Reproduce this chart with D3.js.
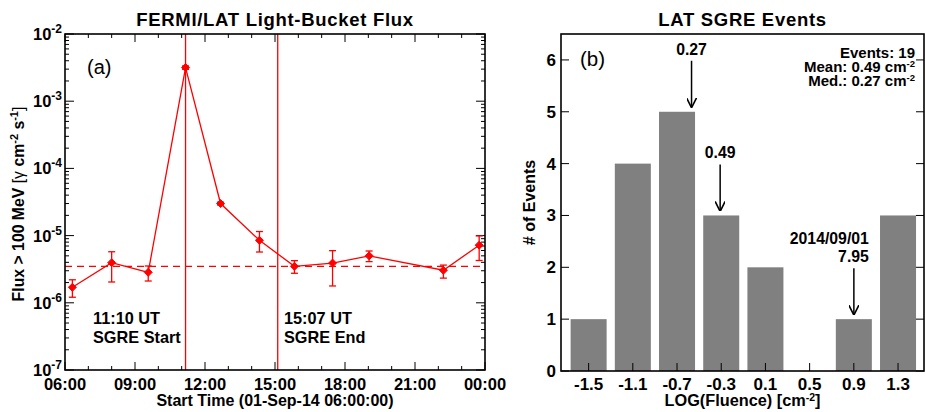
<!DOCTYPE html>
<html>
<head>
<meta charset="utf-8">
<script src="https://cdn.jsdelivr.net/npm/d3@7"></script>
<style>
  body { margin: 0; background: #fff; }
  svg { font-family: "Liberation Sans", Arial, sans-serif; font-weight: bold; }
</style>
</head>
<body>
<svg id="chart" width="925" height="412"></svg>
<script>
// Panel (a): light-bucket flux
const times = ["06:19", "08:00", "09:34", "11:10", "12:40", "14:20", "15:50", "17:28", "19:02", "22:13", "23:45"];
const flux = [1.7e-6, 3.95e-6, 2.84e-6, 3.16e-3, 3.0e-5, 8.5e-6, 3.49e-6, 3.9e-6, 5.0e-6, 3.05e-6, 7.2e-6];
const fluxHi = [2.2e-6, 5.75e-6, 3.53e-6, 3.35e-3, 3.15e-5, 1.15e-5, 4.24e-6, 5.97e-6, 5.9e-6, 3.64e-6, 9.9e-6];
const fluxLo = [1.21e-6, 2.04e-6, 2.11e-6, 2.98e-3, 2.85e-5, 5.7e-6, 2.75e-6, 1.78e-6, 4.1e-6, 2.33e-6, 4.26e-6];
const background = 3.49e-6;
const sgreStart = "11:10";
const sgreEnd = "15:07";

// Panel (b): histogram of event fluence
const binCenters = [-1.5, -1.1, -0.7, -0.3, 0.1, 0.5, 0.9, 1.3];
const counts = [1, 4, 5, 3, 2, 0, 1, 3];
const arrows = [
  { value: 0.27, label: ["0.27"] },
  { value: 0.49, label: ["0.49"] },
  { value: 7.95, label: ["2014/09/01", "7.95"] }
];
const statLines = [["Events: 19", null], ["Mean: 0.49 cm", "-2"], ["Med.: 0.27 cm", "-2"]];

const svg = d3.select("#chart");
const day = "2014-09-01T";
const parseT = (t) => new Date(day + t + ":00Z");
const tickFont = 16.5;
const labelFont = 16;

// ---------- panel a ----------
const a = { left: 65, right: 485, top: 34, bottom: 370 };
const x = d3.scaleUtc()
  .domain([new Date(day + "06:00:00Z"), new Date("2014-09-02T00:00:00Z")])
  .range([a.left, a.right]);
const y = d3.scaleLog().domain([1e-7, 1e-2]).range([a.bottom, a.top]);

const ga = svg.append("g");
const red = "#ff0000";

// ticks
const major = x.ticks(d3.utcHour.every(3));
const minor = x.ticks(d3.utcHour.every(1));
minor.forEach(t => {
  const len = major.some(m => +m === +t) ? 8 : 4;
  ga.append("line").attr("x1", x(t)).attr("x2", x(t)).attr("y1", a.bottom).attr("y2", a.bottom - len).attr("stroke", "#000");
  ga.append("line").attr("x1", x(t)).attr("x2", x(t)).attr("y1", a.top).attr("y2", a.top + len).attr("stroke", "#000");
});
ga.selectAll(".xl").data(major).join("text")
  .attr("x", d => x(d)).attr("y", a.bottom + 20)
  .attr("text-anchor", "middle").attr("font-size", tickFont)
  .text(d3.utcFormat("%H:%M"));

for (let e = -7; e <= -2; e++) {
  for (let m = 1; m <= 9; m++) {
    const v = m * Math.pow(10, e);
    if (v > 1e-2) break;
    const len = m === 1 ? 9 : 4;
    ga.append("line").attr("x1", a.left).attr("x2", a.left + len).attr("y1", y(v)).attr("y2", y(v)).attr("stroke", "#000");
    ga.append("line").attr("x1", a.right).attr("x2", a.right - len).attr("y1", y(v)).attr("y2", y(v)).attr("stroke", "#000");
  }
  const t = ga.append("text").attr("x", a.left - 3).attr("y", y(Math.pow(10, e)) + 6)
    .attr("text-anchor", "end").attr("font-size", tickFont);
  t.append("tspan").text("10");
  t.append("tspan").attr("dy", -7).attr("font-size", 12).text(e);
}

// background + SGRE window
ga.append("line").attr("x1", a.left).attr("x2", a.right).attr("y1", y(background)).attr("y2", y(background))
  .attr("stroke", red).attr("stroke-width", 1.3).attr("stroke-dasharray", "7,5");
[sgreStart, sgreEnd].forEach(t => {
  ga.append("line").attr("x1", x(parseT(t))).attr("x2", x(parseT(t))).attr("y1", a.top).attr("y2", a.bottom)
    .attr("stroke", red).attr("stroke-width", 1.3);
});

// series
const pts = times.map((t, i) => ({ t: parseT(t), v: flux[i], hi: fluxHi[i], lo: fluxLo[i] }));
ga.append("path").datum(pts)
  .attr("d", d3.line().x(d => x(d.t)).y(d => y(d.v)))
  .attr("fill", "none").attr("stroke", red).attr("stroke-width", 1.3);
const pg = ga.selectAll(".pt").data(pts).join("g").attr("transform", d => `translate(${x(d.t)},0)`);
pg.append("line").attr("y1", d => y(d.hi)).attr("y2", d => y(d.lo)).attr("stroke", red).attr("stroke-width", 1.3);
pg.append("line").attr("x1", -3.5).attr("x2", 3.5).attr("y1", d => y(d.hi)).attr("y2", d => y(d.hi)).attr("stroke", red).attr("stroke-width", 1.3);
pg.append("line").attr("x1", -3.5).attr("x2", 3.5).attr("y1", d => y(d.lo)).attr("y2", d => y(d.lo)).attr("stroke", red).attr("stroke-width", 1.3);
pg.append("path").attr("d", d => { const c = y(d.v); return `M0,${c - 4}L4,${c}L0,${c + 4}L-4,${c}Z`; })
  .attr("fill", red).attr("stroke", red);

ga.append("rect").attr("x", a.left).attr("y", a.top).attr("width", a.right - a.left).attr("height", a.bottom - a.top)
  .attr("fill", "none").attr("stroke", "#000").attr("stroke-width", 1.6);

ga.append("text").attr("x", 87).attr("y", 74).attr("font-size", 20).attr("font-weight", "normal").text("(a)");
[["11:10 UT", 93, 324], ["SGRE Start", 93, 343], ["15:07 UT", 284, 324], ["SGRE End", 284, 343]].forEach(([s, tx, ty]) => {
  ga.append("text").attr("x", tx).attr("y", ty).attr("font-size", 16.3).text(s);
});
ga.append("text").attr("x", (a.left + a.right) / 2).attr("y", 26).attr("text-anchor", "middle").attr("font-size", 18.5)
  .attr("letter-spacing", 0.7).text("FERMI/LAT Light-Bucket Flux");
ga.append("text").attr("x", (a.left + a.right) / 2).attr("y", 406).attr("text-anchor", "middle").attr("font-size", labelFont)
  .text("Start Time (01-Sep-14 06:00:00)");
const yt = ga.append("text").attr("transform", `translate(24,${(a.top + a.bottom) / 2 + 2}) rotate(-90)`)
  .attr("text-anchor", "middle").attr("font-size", 15.8);
yt.append("tspan").text("Flux > 100 MeV ");
yt.append("tspan").attr("font-weight", "normal").text("[γ");
yt.append("tspan").text(" cm");
yt.append("tspan").attr("dy", -6).attr("font-size", 11).text("-2");
yt.append("tspan").attr("dy", 6).text(" s");
yt.append("tspan").attr("dy", -6).attr("font-size", 11).text("-1");
yt.append("tspan").attr("dy", 6).attr("font-weight", "normal").text("]");

// ---------- panel b ----------
const b = { left: 561, right: 924, top: 34, bottom: 371 };
const xb = d3.scaleLinear().domain([-1.75, 1.535]).range([b.left, b.right]);
const yb = d3.scaleLinear().domain([0, 6.5]).range([b.bottom, b.top]);
const gb = svg.append("g");
const half = 0.163;

gb.selectAll(".bar").data(binCenters.map((c, i) => ({ c, n: counts[i] }))).join("rect")
  .attr("x", d => xb(d.c - half)).attr("width", d => xb(d.c + half) - xb(d.c - half))
  .attr("y", d => yb(d.n)).attr("height", d => yb(0) - yb(d.n))
  .attr("fill", "#808080");

binCenters.forEach(c => {
  gb.append("line").attr("x1", xb(c)).attr("x2", xb(c)).attr("y1", b.bottom).attr("y2", b.bottom - 8).attr("stroke", "#000");
  gb.append("text").attr("x", xb(c)).attr("y", b.bottom + 19).attr("text-anchor", "middle").attr("font-size", 17).text(c.toFixed(1));
});
yb.ticks(6).forEach(v => {
  gb.append("line").attr("x1", b.left).attr("x2", b.left + 8).attr("y1", yb(v)).attr("y2", yb(v)).attr("stroke", "#000");
  gb.append("line").attr("x1", b.right).attr("x2", b.right - 8).attr("y1", yb(v)).attr("y2", yb(v)).attr("stroke", "#000");
  gb.append("text").attr("x", b.left - 5).attr("y", yb(v) + 6).attr("text-anchor", "end").attr("font-size", 17).text(v);
});

gb.append("rect").attr("x", b.left).attr("y", b.top).attr("width", b.right - b.left).attr("height", b.bottom - b.top)
  .attr("fill", "none").attr("stroke", "#000").attr("stroke-width", 1.6);

// arrows pointing at the bar tops
gb.append("defs").append("marker").attr("id", "head").attr("viewBox", "0 0 10 10")
  .attr("refX", 9).attr("refY", 5).attr("markerWidth", 10).attr("markerHeight", 10)
  .attr("markerUnits", "userSpaceOnUse").attr("orient", "auto")
  .append("path").attr("d", "M0,0L10,5L0,10").attr("fill", "none").attr("stroke", "#000").attr("stroke-width", 1.6);

arrows.forEach(ar => {
  const lx = Math.log10(ar.value);
  const bin = binCenters.reduce((p, c) => Math.abs(c - lx) < Math.abs(p - lx) ? c : p);
  const tipY = yb(counts[binCenters.indexOf(bin)]) - 5;
  const tailY = tipY - 46;
  gb.append("line").attr("x1", xb(lx)).attr("x2", xb(lx)).attr("y1", tailY).attr("y2", tipY)
    .attr("stroke", "#000").attr("stroke-width", 1.5).attr("marker-end", "url(#head)");
  const n = ar.label.length;
  ar.label.forEach((s, i) => {
    gb.append("text")
      .attr("x", n > 1 ? xb(lx) + 15 : xb(lx))
      .attr("y", tailY - 6 - (n - 1 - i) * 18)
      .attr("text-anchor", n > 1 ? "end" : "middle")
      .attr("font-size", 15.8).text(s);
  });
});

statLines.forEach(([s, sup], i) => {
  const t = gb.append("text").attr("x", 915).attr("y", 58 + i * 14).attr("text-anchor", "end").attr("font-size", 15);
  t.append("tspan").text(s);
  if (sup) t.append("tspan").attr("dy", -5).attr("font-size", 9.5).text(sup);
});

gb.append("text").attr("x", 580).attr("y", 66).attr("font-size", 20.5).attr("font-weight", "normal").text("(b)");
gb.append("text").attr("x", (b.left + b.right) / 2).attr("y", 26).attr("text-anchor", "middle").attr("font-size", 18.5)
  .attr("letter-spacing", 0.7).text("LAT SGRE Events");
const xt = gb.append("text").attr("x", (b.left + b.right) / 2).attr("y", 406).attr("text-anchor", "middle").attr("font-size", 16.3);
xt.append("tspan").text("LOG(Fluence) [cm");
xt.append("tspan").attr("dy", -5).attr("font-size", 10.5).text("-2");
xt.append("tspan").attr("dy", 5).text("]");
gb.append("text").attr("transform", `translate(535,${(b.top + b.bottom) / 2}) rotate(-90)`)
  .attr("text-anchor", "middle").attr("font-size", 16).text("# of Events");
</script>
</body>
</html>
